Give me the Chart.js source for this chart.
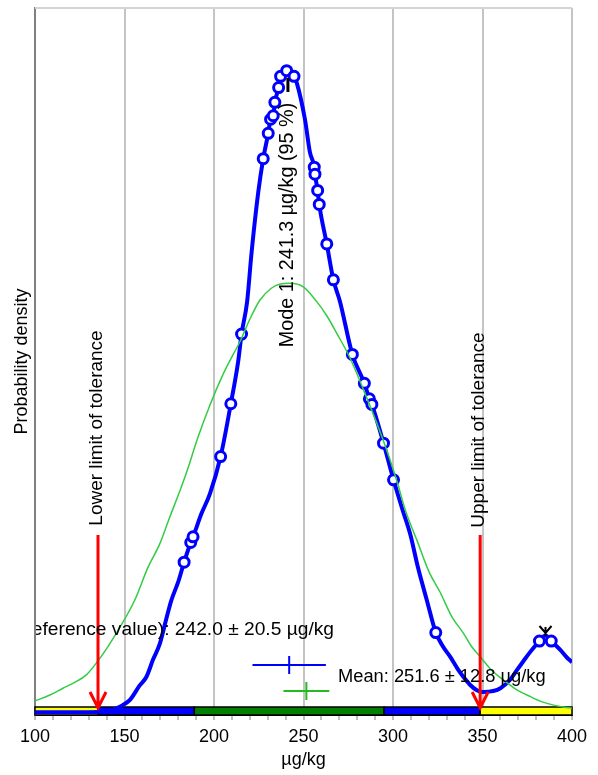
<!DOCTYPE html>
<html>
<head>
<meta charset="utf-8">
<script src="https://cdn.jsdelivr.net/npm/chart.js@4.4.1/dist/chart.umd.min.js"></script>
<style>
  body { margin: 0; background: #ffffff; }
</style>
</head>
<body>
<canvas id="densityChart" width="598" height="775"></canvas>
<script>
// kernel density estimate of the results (µg/kg vs. density, arbitrary units)
const kernelX = [100, 110, 120, 130, 138, 142, 145.4, 149, 152.9, 158.5, 162.2, 166, 169.7, 173.4, 176.2, 180,
  183.3, 187.0, 188.3, 193, 197.7, 203.7, 209.4, 213.5, 215.4, 218.5, 221.0, 224.7, 227.5, 230.3, 231.6, 233.1,
  234.0, 236.1, 237.2, 240.6, 244.7, 246.2, 250.8, 253.6, 256.0, 256.4, 257.9, 258.8, 263.0, 266.7, 270.4, 277.3,
  284.0, 286.8, 288.2, 294.7, 300.3, 305, 309.6, 314, 318.9, 323.9, 328, 332, 336, 339.4, 343, 346.9, 350, 352.5,
  356, 360, 365, 369.3, 373, 376.8, 381.8, 385.2, 388.4, 393.6, 397, 400];
const kernelY = [0, 0, 0, 0, 0.05, 0.2, 0.55, 1.0, 1.7, 3.8, 5.0, 7.5, 9.7, 13.3, 15.9, 18.5,
  21.3, 24.1, 24.9, 28.2, 31.0, 36.3, 43.8, 49.8, 53.7, 58.3, 65.3, 73.8, 78.6, 82.2, 84.2, 84.7,
  86.6, 88.7, 90.3, 91.3, 90.3, 89.4, 84.2, 79.5, 77.4, 76.4, 74.1, 72.1, 66.5, 61.4, 58.3, 50.8,
  46.7, 44.5, 43.7, 38.2, 33.0, 29.0, 25.3, 20.5, 15.9, 11.3, 9.3, 7.85, 6.2, 5.0, 3.9, 3.1, 2.85, 2.9,
  3.0, 3.4, 4.5, 6.0, 7.3, 8.6, 10.1, 10.9, 10.1, 8.8, 7.8, 7.1];

// laboratory results, marked on the kernel curve
const resultX = [183.3, 187.0, 188.3, 203.7, 209.4, 215.4, 227.5, 230.3, 231.6, 233.1, 234.0, 236.1, 237.2,
  240.6, 244.7, 256.0, 256.4, 257.9, 258.8, 263.0, 266.7, 277.3, 284.0, 286.8, 288.2, 294.7, 300.3, 323.9,
  381.8, 388.4];
const resultY = [21.3, 24.1, 24.9, 36.3, 43.8, 53.7, 78.6, 82.2, 84.2, 84.7, 86.6, 88.7, 90.3,
  91.1, 90.3, 77.4, 76.4, 74.1, 72.1, 66.5, 61.4, 50.8, 46.7, 44.5, 43.7, 38.2, 33.0, 11.3,
  10.1, 10.1];

// normal density from mean and standard deviation
const normalX = [100, 108, 115.6, 121.2, 128.7, 136.1, 145.4, 155.7, 163, 169.7, 175, 180.9, 184.6, 191, 197.7,
  205.1, 210.7, 214.5, 220, 225.6, 232, 237, 242.4, 249.9, 257.4, 263, 268.6, 276, 285.4, 294.7, 302.2, 307,
  313.4, 320, 326.4, 333, 339.4, 344, 348.8, 355, 361.8, 369, 376.8, 383, 389.8, 395, 400];
const normalY = [1.6, 2.4, 3.4, 4.1, 5.3, 7.6, 11.2, 15.9, 20.5, 23.9, 27.5, 31.4, 34.0, 39.0, 43.6,
  48.0, 50.8, 52.6, 55.8, 58.5, 60.2, 60.8, 60.9, 60.4, 58.3, 56.3, 53.8, 50.3, 44.6, 38.5, 32.8, 28.6,
  24.4, 20.0, 17.0, 13.5, 11.2, 9.3, 7.85, 6.0, 4.55, 3.2, 2.2, 1.5, 1.0, 0.75, 0.55];

const toleranceLimits = [135.2, 348.7];
const zoneEdges = [100, 135.2, 189.0, 295.0, 348.7, 400];
const zoneColors = ['#ffff00', '#0000ff', '#008000', '#0000ff', '#ffff00'];
const modeValues = [241.3, 385.2];
const referenceValue = [242.0, 20.5];   // value, uncertainty
const meanValue = [251.6, 12.8];        // mean, uncertainty

const FONT = "'Liberation Sans', Arial, sans-serif";

function pts(xs, ys) {
  return xs.map((x, i) => ({ x: x, y: ys[i] }));
}

function drawCross(ctx, xs, val, unc, py, color) {
  const x0 = xs.getPixelForValue(val - unc);
  const x1 = xs.getPixelForValue(val + unc);
  const xc = xs.getPixelForValue(val);
  ctx.strokeStyle = color;
  ctx.lineWidth = 2;
  ctx.beginPath();
  ctx.moveTo(x0, py); ctx.lineTo(x1, py);
  ctx.moveTo(xc, py - 9); ctx.lineTo(xc, py + 9);
  ctx.stroke();
}

function verticalText(ctx, text, x, y, size) {
  ctx.save();
  ctx.font = size + 'px ' + FONT;
  ctx.translate(x, y);
  ctx.rotate(-Math.PI / 2);
  ctx.textAlign = 'center';
  ctx.textBaseline = 'middle';
  ctx.fillText(text, 0, 0);
  ctx.restore();
}

const overlay = {
  id: 'overlay',
  beforeDatasetsDraw(chart) {
    const { ctx, chartArea: a, scales: { x } } = chart;
    ctx.save();
    ctx.strokeStyle = '#d4d4d4';
    ctx.lineWidth = 2;
    ctx.beginPath();
    ctx.moveTo(a.left, a.top); ctx.lineTo(a.right, a.top);
    ctx.stroke();

    // tolerance zones along the axis
    const top = a.bottom - 8;
    for (let i = 0; i < zoneColors.length; i++) {
      const x0 = x.getPixelForValue(zoneEdges[i]);
      const x1 = x.getPixelForValue(zoneEdges[i + 1]);
      ctx.fillStyle = zoneColors[i];
      ctx.fillRect(x0, top, x1 - x0, a.bottom - top);
      ctx.strokeStyle = '#000000';
      ctx.lineWidth = 1.5;
      ctx.strokeRect(x0, top, x1 - x0, a.bottom - top);
    }
    ctx.restore();
  },
  afterDatasetsDraw(chart) {
    const { ctx, chartArea: a, scales: { x } } = chart;
    ctx.save();

    // tolerance limit arrows
    ctx.strokeStyle = '#ff0000';
    ctx.lineWidth = 3;
    toleranceLimits.forEach(v => {
      const px = x.getPixelForValue(v);
      ctx.beginPath();
      ctx.moveTo(px, a.bottom - 180); ctx.lineTo(px, a.bottom - 8);
      ctx.moveTo(px - 8, a.bottom - 23); ctx.lineTo(px, a.bottom - 7); ctx.lineTo(px + 8, a.bottom - 23);
      ctx.stroke();
    });

    // reference value and mean with uncertainties
    drawCross(ctx, x, referenceValue[0], referenceValue[1], a.bottom - 50, '#0000ff');
    drawCross(ctx, x, meanValue[0], meanValue[1], a.bottom - 24, '#22bb22');

    // mode markers
    ctx.strokeStyle = '#000000';
    ctx.lineWidth = 3;
    const m1 = x.getPixelForValue(modeValues[0]);
    ctx.beginPath();
    ctx.moveTo(m1, 78); ctx.lineTo(m1, 92);
    ctx.stroke();
    const m2 = x.getPixelForValue(modeValues[1]);
    ctx.lineWidth = 2;
    ctx.beginPath();
    ctx.moveTo(m2 - 6, 626); ctx.lineTo(m2, 633); ctx.lineTo(m2 + 6, 626);
    ctx.moveTo(m2, 627); ctx.lineTo(m2, 636);
    ctx.stroke();

    // labels
    ctx.fillStyle = '#000000';
    verticalText(ctx, 'Mode 1: ' + modeValues[0].toFixed(1) + ' µg/kg (95 %)', m1, 225, 19.8);
    verticalText(ctx, 'Lower limit of tolerance', x.getPixelForValue(toleranceLimits[0]) - 1, 428, 19);
    verticalText(ctx, 'Upper limit of tolerance', x.getPixelForValue(toleranceLimits[1]) - 1, 430, 19);

    ctx.font = '18.3px ' + FONT;
    ctx.textBaseline = 'middle';
    ctx.textAlign = 'left';
    ctx.fillText('Mean: ' + meanValue[0].toFixed(1) + ' ± ' + meanValue[1].toFixed(1) + ' µg/kg', 338, a.bottom - 38);

    ctx.save();
    ctx.beginPath();
    ctx.rect(a.left + 1, a.top, a.right - a.left, a.bottom - a.top);
    ctx.clip();
    ctx.font = '19.2px ' + FONT;
    ctx.textAlign = 'right';
    ctx.fillText('Assigned value (reference value): ' + referenceValue[0].toFixed(1) + ' ± ' +
      referenceValue[1].toFixed(1) + ' µg/kg', 334, a.bottom - 85);
    ctx.restore();

    ctx.restore();
  }
};

new Chart(document.getElementById('densityChart'), {
  type: 'scatter',
  data: {
    datasets: [
      {
        label: 'Kernel density',
        data: pts(kernelX, kernelY),
        showLine: true,
        borderColor: '#0000ff',
        borderWidth: 4,
        pointRadius: 0,
        cubicInterpolationMode: 'monotone',
        order: 3
      },
      {
        label: 'Results',
        data: pts(resultX, resultY),
        showLine: false,
        pointRadius: 5,
        pointBorderWidth: 3,
        pointBorderColor: '#0000ff',
        pointBackgroundColor: '#ffffff',
        order: 2
      },
      {
        label: 'Normal distribution',
        data: pts(normalX, normalY),
        showLine: true,
        borderColor: '#33cc44',
        borderWidth: 1.5,
        pointRadius: 0,
        cubicInterpolationMode: 'monotone',
        order: 1
      }
    ]
  },
  options: {
    responsive: false,
    animation: false,
    devicePixelRatio: 1,
    layout: { padding: { top: 5, right: 26, left: 0, bottom: 0 } },
    plugins: {
      legend: { display: false },
      tooltip: { enabled: false }
    },
    scales: {
      x: {
        type: 'linear',
        min: 100,
        max: 400,
        afterFit: s => { s.height = 60; },
        ticks: {
          stepSize: 10,
          autoSkip: false,
          maxRotation: 0,
          padding: 6,
          color: '#000000',
          font: { family: FONT, size: 18 },
          callback: v => (v % 50 === 0 ? v : '')
        },
        grid: {
          color: c => (c.tick && c.tick.value % 50 === 0 ? '#c4c4c4' : 'rgba(0,0,0,0)'),
          lineWidth: 2,
          tickColor: '#808080',
          tickLength: 5,
          tickWidth: 1
        },
        border: { color: '#000000', width: 1 },
        title: {
          display: true,
          text: 'µg/kg',
          color: '#000000',
          font: { family: FONT, size: 18 },
          padding: { top: 0, bottom: 4 }
        }
      },
      y: {
        type: 'linear',
        min: -0.4,
        max: 100,
        afterFit: s => { s.width = 35; },
        ticks: { display: false },
        grid: { display: false },
        border: { color: '#808080', width: 2 },
        title: {
          display: true,
          text: 'Probability density',
          color: '#000000',
          font: { family: FONT, size: 18 },
          padding: { top: 11, bottom: 0 }
        }
      }
    }
  },
  plugins: [overlay]
});
</script>
</body>
</html>
